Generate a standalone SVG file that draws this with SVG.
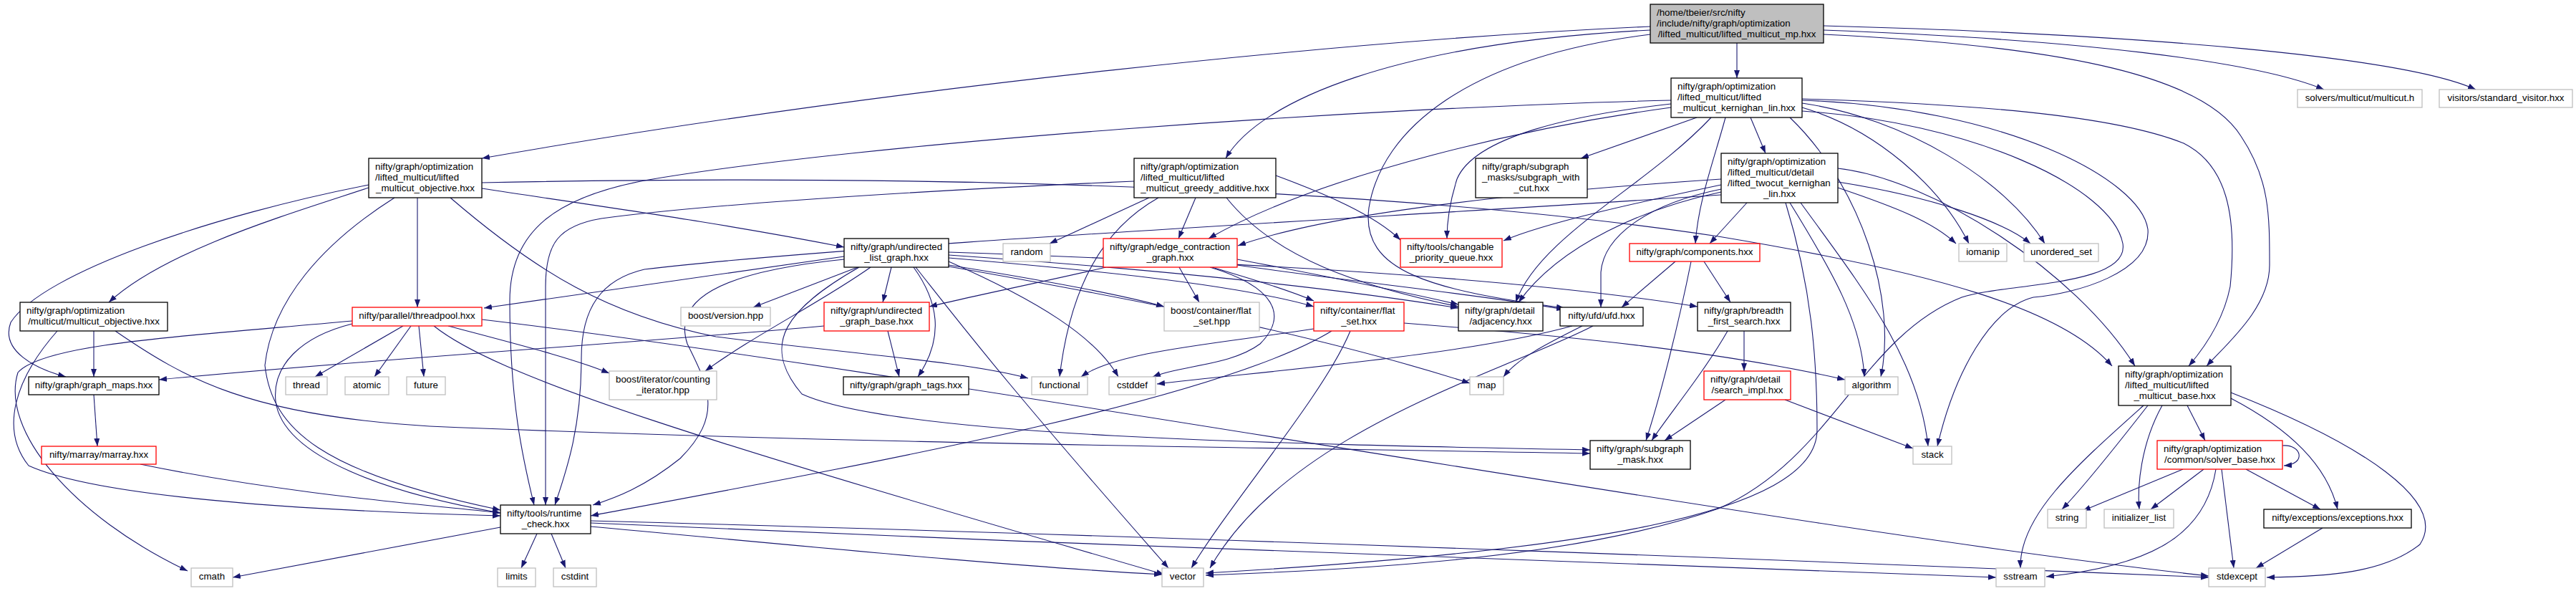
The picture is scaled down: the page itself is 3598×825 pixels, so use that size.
<svg xmlns="http://www.w3.org/2000/svg" width="3598" height="825" viewBox="0 0 3598 825">
<style>
rect{stroke-width:1.3}
.k rect{fill:#fff;stroke:#000}
.r rect{fill:#fff;stroke:#ff0000}
.g rect{fill:#fff;stroke:#bfbfbf}
.top rect{fill:#bfbfbf;stroke:#000}
text{font-family:"Liberation Sans",Arial,Helvetica,sans-serif;font-size:13.33px;fill:#000}
.c{text-anchor:middle}
#edges path{fill:none;stroke:#191970;stroke-width:1.1;marker-end:url(#ah)}
</style>
<defs>
<marker id="ah" viewBox="0 0 11 8" refX="11" refY="4" markerWidth="11" markerHeight="8" markerUnits="userSpaceOnUse" orient="auto"><path d="M0,0 L11,4 L0,8 z" fill="#191970"/></marker>
</defs>
<rect width="3598" height="825" fill="#fff"/>
<g id="edges">
<path d="M2426,60 L2426,109"/>
<path d="M2305,37 C1900,55 1250,120 673,221"/>
<path d="M2305,42 C1950,60 1760,140 1712,221"/>
<path d="M2305,48 C2050,80 1930,180 1912,290 C1900,380 2000,405 2185,430"/>
<path d="M2547,42 C2900,55 3150,85 3246,125"/>
<path d="M2547,36 C3000,48 3360,80 3458,125"/>
<path d="M2547,48 C2900,65 3080,110 3130,190 C3170,250 3170,300 3170,370 C3170,430 3110,480 3082,511"/>
<path d="M2370,164 L2208,221"/>
<path d="M2445,164 L2466,214"/>
<path d="M2410,164 C2395,220 2372,280 2368,340"/>
<path d="M2334,145 C2200,160 2060,190 2035,250 C2024,285 2021,310 2021,333"/>
<path d="M2334,150 C2150,175 1850,240 1688,333"/>
<path d="M2390,164 C2300,260 2150,330 2117,422"/>
<path d="M2334,140 C1900,150 1200,200 900,252 C780,275 712,320 712,420 C712,560 730,640 746,705"/>
<path d="M2517,150 C2620,180 2710,260 2750,340"/>
<path d="M2517,144 C2660,165 2800,250 2856,340"/>
<path d="M2500,164 C2600,260 2650,420 2627,526"/>
<path d="M2517,140 C2800,150 2990,250 3000,320 C3005,380 2900,410 2840,415 C2780,430 2730,520 2706,623"/>
<path d="M2517,155 C2750,170 2950,260 2965,340 C2975,400 2800,395 2740,415 C2600,470 2560,640 2400,710 C2200,780 1900,795 1684,803"/>
<path d="M2517,138 C2750,145 2950,160 3050,200 C3110,230 3125,300 3115,400 C3105,450 3075,490 3057,511"/>
<path d="M2404,250 C2100,270 1850,300 1729,343"/>
<path d="M2404,258 C2300,280 2160,310 2100,336"/>
<path d="M2440,283 L2388,340"/>
<path d="M2404,268 C2300,290 2180,340 2121,422"/>
<path d="M2404,264 C2300,285 2240,330 2236,380 L2236,429"/>
<path d="M2404,272 C2000,300 1200,340 900,376 C840,390 812,430 812,500 C812,600 790,660 775,705"/>
<path d="M2567,262 C2650,290 2700,310 2732,340"/>
<path d="M2567,254 C2700,275 2800,310 2836,340"/>
<path d="M2500,283 C2560,380 2600,450 2604,526"/>
<path d="M2515,283 C2600,400 2680,500 2693,623"/>
<path d="M2494,283 C2530,400 2538,500 2538,600 C2538,720 2200,770 1684,800"/>
<path d="M2567,235 C2700,250 2900,380 2982,511"/>
<path d="M1605,276 L1466,340"/>
<path d="M1618,276 C1540,320 1495,400 1480,526"/>
<path d="M1670,276 L1646,333"/>
<path d="M1584,253 C1200,270 950,290 840,305 C780,315 762,340 762,400 L762,705"/>
<path d="M1782,245 C1850,270 1920,300 1956,335"/>
<path d="M1713,276 C1780,360 1900,400 2037,428"/>
<path d="M515,262 C400,300 230,350 152,422"/>
<path d="M515,258 C300,300 60,380 15,450 C0,490 50,515 92,526"/>
<path d="M551,276 C450,340 380,420 370,510 C380,600 450,660 699,712"/>
<path d="M583,276 L583,429"/>
<path d="M673,263 C850,290 1000,310 1179,345"/>
<path d="M673,255 C1400,240 2000,270 2400,330 C2700,380 2880,430 2950,511"/>
<path d="M629,276 C750,380 850,440 1000,470 C1200,495 1350,505 1436,528"/>
<path d="M131,462 L131,526"/>
<path d="M80,462 C20,530 0,600 40,650 C150,700 500,715 699,720"/>
<path d="M161,462 C260,530 350,580 600,595 C1200,620 1800,625 2221,633"/>
<path d="M563,455 L440,526"/>
<path d="M574,455 L523,526"/>
<path d="M585,455 L592,526"/>
<path d="M626,455 C720,480 800,500 851,521"/>
<path d="M492,452 C420,470 380,510 385,560 C395,640 550,690 699,716"/>
<path d="M606,455 C700,530 1000,620 1626,802"/>
<path d="M673,446 C1300,520 2500,740 3085,804"/>
<path d="M492,448 C250,470 60,480 25,520 C0,600 100,720 262,797"/>
<path d="M1179,358 C1050,375 900,398 676,430"/>
<path d="M1198,373 L1052,429"/>
<path d="M1245,373 L1233,422"/>
<path d="M1276,373 C1310,420 1320,470 1282,526"/>
<path d="M1216,373 C1150,420 1050,470 985,518"/>
<path d="M1325,365 C1450,420 1530,470 1562,526"/>
<path d="M1179,362 C1000,380 940,420 960,480 C990,540 1010,580 950,640 C900,680 860,695 828,705"/>
<path d="M1325,370 C1450,390 1560,410 1626,428"/>
<path d="M1325,360 C1500,375 1720,395 1835,428"/>
<path d="M1325,356 C1600,375 1850,400 2037,430"/>
<path d="M1325,352 C1700,365 2100,385 2371,428"/>
<path d="M1325,372 C1600,420 1850,470 2053,535"/>
<path d="M1279,373 C1340,450 1400,530 1632,793"/>
<path d="M1200,373 C1100,430 1060,480 1120,550 C1250,610 1800,620 2221,628"/>
<path d="M1151,455 C900,478 534,500 222,530"/>
<path d="M1240,462 L1256,526"/>
<path d="M1545,373 C1450,395 1350,415 1298,428"/>
<path d="M1647,373 L1675,422"/>
<path d="M1693,373 C1750,390 1800,405 1835,420"/>
<path d="M1728,362 C1850,385 1950,405 2037,425"/>
<path d="M1728,370 C1900,395 2060,410 2185,432"/>
<path d="M1690,373 C1780,400 1800,440 1760,480 C1720,510 1650,510 1610,526"/>
<path d="M1835,459 C1700,480 1560,490 1510,526"/>
<path d="M1961,451 C2200,470 2400,490 2577,530"/>
<path d="M1886,462 C1850,550 1720,700 1664,793"/>
<path d="M1860,462 C1700,560 1200,650 825,720"/>
<path d="M2210,455 C2160,480 2120,500 2100,526"/>
<path d="M2196,455 C2050,495 1800,515 1616,536"/>
<path d="M2225,455 C2100,520 1800,600 1690,793"/>
<path d="M2340,365 L2265,429"/>
<path d="M2380,365 L2417,422"/>
<path d="M2362,365 C2345,450 2320,550 2299,615"/>
<path d="M2436,462 L2436,518"/>
<path d="M2413,462 C2380,520 2330,580 2307,615"/>
<path d="M2410,558 L2325,615"/>
<path d="M2493,558 L2672,626"/>
<path d="M131,551 L136,623"/>
<path d="M196,648 C400,690 600,705 699,716"/>
<path d="M699,736 L325,806"/>
<path d="M750,745 L728,793"/>
<path d="M770,745 L790,793"/>
<path d="M825,735 C1100,760 1400,790 1623,802"/>
<path d="M825,730 C1500,760 2300,790 2788,806"/>
<path d="M825,727 C1700,750 2700,790 3085,806"/>
<path d="M3055,566 L3080,615"/>
<path d="M3000,566 C2950,630 2910,680 2880,711"/>
<path d="M3020,566 C2990,620 2985,680 2988,711"/>
<path d="M2994,566 C2900,650 2820,720 2822,793"/>
<path d="M3116,556 C3200,600 3250,650 3265,711"/>
<path d="M3116,548 C3300,620 3420,700 3380,760 C3330,800 3250,805 3166,806"/>
<path d="M3188,622 C3215,620 3222,648 3190,650"/>
<path d="M3049,655 L2909,713"/>
<path d="M3078,655 L3004,711"/>
<path d="M3095,655 C3080,750 3000,790 2858,805"/>
<path d="M3103,655 L3120,793"/>
<path d="M3137,655 L3241,711"/>
<path d="M3244,737 L3151,793"/>
</g>
<g id="n_mp" class="top"><rect x="2305" y="6" width="242" height="54"/><text x="2314" y="22">/home/tbeier/src/nifty</text><text x="2314" y="37">/include/nifty/graph/optimization</text><text class="c" x="2426" y="52">/lifted_multicut/lifted_multicut_mp.hxx</text></g>
<g id="n_kl" class="k"><rect x="2334" y="109" width="183" height="55"/><text x="2343" y="125">nifty/graph/optimization</text><text x="2343" y="140">/lifted_multicut/lifted</text><text class="c" x="2425.5" y="155">_multicut_kernighan_lin.hxx</text></g>
<g id="n_solvers" class="g"><rect x="3209" y="125" width="174" height="25"/><text class="c" x="3296" y="141">solvers/multicut/multicut.h</text></g>
<g id="n_visitors" class="g"><rect x="3407" y="125" width="186" height="25"/><text class="c" x="3500" y="141">visitors/standard_visitor.hxx</text></g>
<g id="n_objective" class="k"><rect x="515" y="221" width="158" height="55"/><text x="524" y="237">nifty/graph/optimization</text><text x="524" y="252">/lifted_multicut/lifted</text><text class="c" x="594" y="267">_multicut_objective.hxx</text></g>
<g id="n_greedy" class="k"><rect x="1584" y="221" width="198" height="55"/><text x="1593" y="237">nifty/graph/optimization</text><text x="1593" y="252">/lifted_multicut/lifted</text><text class="c" x="1683" y="267">_multicut_greedy_additive.hxx</text></g>
<g id="n_swc" class="k"><rect x="2061" y="221" width="156" height="55"/><text x="2070" y="237">nifty/graph/subgraph</text><text x="2070" y="252">_masks/subgraph_with</text><text class="c" x="2139" y="267">_cut.hxx</text></g>
<g id="n_twocut" class="k"><rect x="2404" y="214" width="163" height="69"/><text x="2413" y="230">nifty/graph/optimization</text><text x="2413" y="245">/lifted_multicut/detail</text><text x="2413" y="260">/lifted_twocut_kernighan</text><text class="c" x="2485.5" y="275">_lin.hxx</text></g>
<g id="n_ulg" class="k"><rect x="1179" y="333" width="146" height="40"/><text x="1188" y="349">nifty/graph/undirected</text><text class="c" x="1252" y="364">_list_graph.hxx</text></g>
<g id="n_random" class="g"><rect x="1401" y="340" width="66" height="25"/><text class="c" x="1434" y="356">random</text></g>
<g id="n_ecg" class="r"><rect x="1541" y="333" width="187" height="40"/><text x="1550" y="349">nifty/graph/edge_contraction</text><text class="c" x="1634.5" y="364">_graph.hxx</text></g>
<g id="n_cpq" class="r"><rect x="1956" y="333" width="142" height="40"/><text x="1965" y="349">nifty/tools/changable</text><text class="c" x="2027" y="364">_priority_queue.hxx</text></g>
<g id="n_components" class="r"><rect x="2276" y="340" width="182" height="25"/><text class="c" x="2367" y="356">nifty/graph/components.hxx</text></g>
<g id="n_iomanip" class="g"><rect x="2736" y="340" width="67" height="25"/><text class="c" x="2769.5" y="356">iomanip</text></g>
<g id="n_uset" class="g"><rect x="2827" y="340" width="104" height="25"/><text class="c" x="2879" y="356">unordered_set</text></g>
<g id="n_mobj" class="k"><rect x="28" y="422" width="206" height="40"/><text x="37" y="438">nifty/graph/optimization</text><text class="c" x="131" y="453">/multicut/multicut_objective.hxx</text></g>
<g id="n_threadpool" class="r"><rect x="492" y="429" width="181" height="26"/><text class="c" x="582.5" y="445">nifty/parallel/threadpool.hxx</text></g>
<g id="n_bversion" class="g"><rect x="951" y="429" width="125" height="26"/><text class="c" x="1013.5" y="445">boost/version.hpp</text></g>
<g id="n_ugb" class="r"><rect x="1151" y="422" width="147" height="40"/><text x="1160" y="438">nifty/graph/undirected</text><text class="c" x="1224.5" y="453">_graph_base.hxx</text></g>
<g id="n_bflatset" class="g"><rect x="1626" y="422" width="133" height="40"/><text x="1635" y="438">boost/container/flat</text><text class="c" x="1692.5" y="453">_set.hpp</text></g>
<g id="n_cflatset" class="r"><rect x="1835" y="422" width="126" height="40"/><text x="1844" y="438">nifty/container/flat</text><text class="c" x="1898" y="453">_set.hxx</text></g>
<g id="n_adjacency" class="k"><rect x="2037" y="422" width="118" height="40"/><text x="2046" y="438">nifty/graph/detail</text><text class="c" x="2096" y="453">/adjacency.hxx</text></g>
<g id="n_ufd" class="k"><rect x="2179" y="429" width="116" height="26"/><text class="c" x="2237" y="445">nifty/ufd/ufd.hxx</text></g>
<g id="n_bfs" class="k"><rect x="2371" y="422" width="130" height="40"/><text x="2380" y="438">nifty/graph/breadth</text><text class="c" x="2436" y="453">_first_search.hxx</text></g>
<g id="n_graphmaps" class="k"><rect x="40" y="526" width="182" height="25"/><text class="c" x="131" y="542">nifty/graph/graph_maps.hxx</text></g>
<g id="n_thread" class="g"><rect x="399" y="526" width="58" height="25"/><text class="c" x="428" y="542">thread</text></g>
<g id="n_atomic" class="g"><rect x="482" y="526" width="61" height="25"/><text class="c" x="512.5" y="542">atomic</text></g>
<g id="n_future" class="g"><rect x="568" y="526" width="54" height="25"/><text class="c" x="595" y="542">future</text></g>
<g id="n_citer" class="g"><rect x="851" y="518" width="150" height="40"/><text x="860" y="534">boost/iterator/counting</text><text class="c" x="926" y="549">_iterator.hpp</text></g>
<g id="n_graphtags" class="k"><rect x="1178" y="526" width="175" height="25"/><text class="c" x="1265.5" y="542">nifty/graph/graph_tags.hxx</text></g>
<g id="n_functional" class="g"><rect x="1441" y="526" width="78" height="25"/><text class="c" x="1480" y="542">functional</text></g>
<g id="n_cstddef" class="g"><rect x="1549" y="526" width="65" height="25"/><text class="c" x="1581.5" y="542">cstddef</text></g>
<g id="n_map" class="g"><rect x="2053" y="526" width="47" height="25"/><text class="c" x="2076.5" y="542">map</text></g>
<g id="n_searchimpl" class="r"><rect x="2380" y="518" width="121" height="40"/><text x="2389" y="534">nifty/graph/detail</text><text class="c" x="2440.5" y="549">/search_impl.hxx</text></g>
<g id="n_algorithm" class="g"><rect x="2577" y="526" width="74" height="25"/><text class="c" x="2614" y="542">algorithm</text></g>
<g id="n_base" class="k"><rect x="2959" y="511" width="157" height="55"/><text x="2968" y="527">nifty/graph/optimization</text><text x="2968" y="542">/lifted_multicut/lifted</text><text class="c" x="3037.5" y="557">_multicut_base.hxx</text></g>
<g id="n_marray" class="r"><rect x="58" y="623" width="160" height="25"/><text class="c" x="138" y="639">nifty/marray/marray.hxx</text></g>
<g id="n_sgmask" class="k"><rect x="2221" y="615" width="140" height="40"/><text x="2230" y="631">nifty/graph/subgraph</text><text class="c" x="2291" y="646">_mask.hxx</text></g>
<g id="n_stack" class="g"><rect x="2672" y="623" width="54" height="25"/><text class="c" x="2699" y="639">stack</text></g>
<g id="n_solverbase" class="r"><rect x="3013" y="615" width="175" height="40"/><text x="3022" y="631">nifty/graph/optimization</text><text class="c" x="3100.5" y="646">/common/solver_base.hxx</text></g>
<g id="n_runtime" class="k"><rect x="699" y="705" width="126" height="40"/><text x="708" y="721">nifty/tools/runtime</text><text class="c" x="762" y="736">_check.hxx</text></g>
<g id="n_string" class="g"><rect x="2860" y="711" width="54" height="26"/><text class="c" x="2887" y="727">string</text></g>
<g id="n_initlist" class="g"><rect x="2939" y="711" width="97" height="26"/><text class="c" x="2987.5" y="727">initializer_list</text></g>
<g id="n_exceptions" class="k"><rect x="3162" y="711" width="206" height="26"/><text class="c" x="3265" y="727">nifty/exceptions/exceptions.hxx</text></g>
<g id="n_cmath" class="g"><rect x="267" y="793" width="58" height="26"/><text class="c" x="296" y="809">cmath</text></g>
<g id="n_limits" class="g"><rect x="695" y="793" width="53" height="26"/><text class="c" x="721.5" y="809">limits</text></g>
<g id="n_cstdint" class="g"><rect x="773" y="793" width="60" height="26"/><text class="c" x="803" y="809">cstdint</text></g>
<g id="n_vector" class="g"><rect x="1623" y="793" width="58" height="26"/><text class="c" x="1652" y="809">vector</text></g>
<g id="n_sstream" class="g"><rect x="2788" y="793" width="68" height="26"/><text class="c" x="2822" y="809">sstream</text></g>
<g id="n_stdexcept" class="g"><rect x="3085" y="793" width="79" height="26"/><text class="c" x="3124.5" y="809">stdexcept</text></g>
</svg>
